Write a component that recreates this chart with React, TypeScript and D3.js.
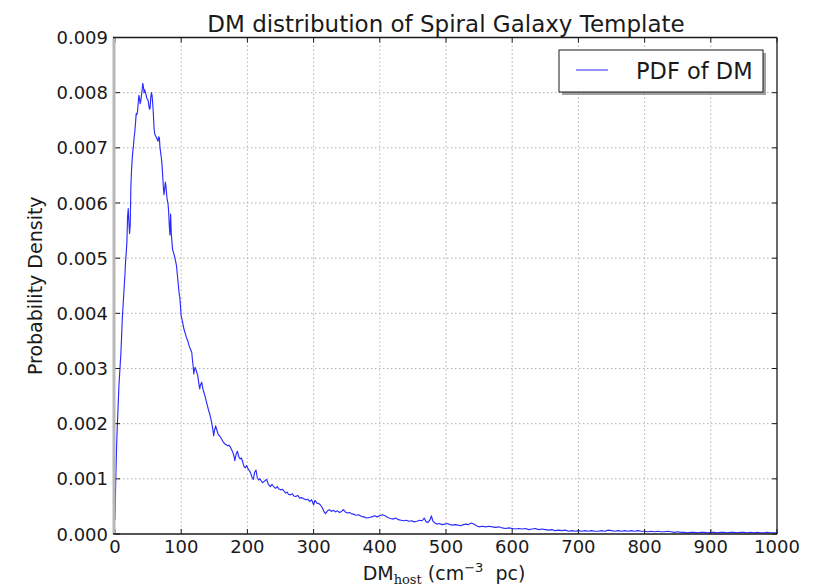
import React from "react";
import * as d3 from "d3";

// Histogram estimate of DM_host for the spiral galaxy template: [DM (cm^-3 pc), density x 1e-3]
const pdfPoints: [number, number][] = [
  [0, 0.25], [1, 0.9], [2, 1.4], [3, 1.8], [4, 2.1], [5, 2.4], [6, 2.7], [7, 2.9], [8, 3.1], [9, 3.3],
  [10, 3.6], [11, 3.9], [12, 4.1], [13, 4.3], [14, 4.5], [15, 4.7], [16, 4.95], [17, 5.1], [18, 5.3], [19, 5.75],
  [20, 5.9], [21, 5.65], [22, 5.45], [23, 5.6], [24, 6.3], [25, 6.6], [26, 6.8], [27, 6.95], [28, 7.05], [29, 7.2],
  [30, 7.3], [31, 7.45], [32, 7.62], [33, 7.6], [34, 7.66], [35, 7.8], [36, 7.95], [37, 7.9], [38, 7.8], [39, 7.85],
  [40, 7.95], [41, 8.05], [42, 8.17], [43, 8.1], [44, 8.0], [45, 8.05], [46, 8.0], [47, 7.96], [48, 7.9], [49, 7.88],
  [50, 7.86], [51, 7.78], [52, 7.7], [53, 7.72], [54, 7.9], [55, 8.0], [56, 7.95], [57, 7.8], [58, 7.6], [59, 7.35],
  [60, 7.25], [62, 7.2], [64, 7.15], [65, 7.12], [66, 7.2], [67, 7.18], [68, 7.0], [70, 6.82], [71, 6.7], [72, 6.5],
  [73, 6.3], [74, 6.15], [75, 6.25], [76, 6.38], [77, 6.3], [78, 6.15], [79, 6.05], [80, 6.0], [81, 5.85], [82, 5.6],
  [83, 5.42], [84, 5.8], [85, 5.45], [86, 5.3], [87, 5.15], [88, 5.12], [90, 5.03], [92, 4.92], [93, 4.85], [95, 4.6],
  [97, 4.35], [98, 4.28], [100, 3.95], [102, 3.85], [104, 3.72], [106, 3.64], [108, 3.56], [110, 3.5], [112, 3.41], [114, 3.35],
  [116, 3.29], [117, 3.15], [118, 3.05], [119, 2.9], [120, 2.98], [121, 3.02], [123, 2.95], [125, 2.87], [127, 2.7], [128, 2.63],
  [129, 2.7], [131, 2.75], [133, 2.62], [136, 2.5], [138, 2.4], [141, 2.26], [143, 2.18], [146, 2.02], [148, 1.88], [149, 1.78],
  [150, 1.86], [152, 1.96], [154, 1.88], [156, 1.8], [158, 1.78], [160, 1.74], [162, 1.7], [164, 1.66], [166, 1.63], [168, 1.62],
  [170, 1.6], [172, 1.61], [174, 1.58], [176, 1.53], [178, 1.48], [180, 1.4], [181, 1.33], [183, 1.45], [185, 1.5], [187, 1.4],
  [189, 1.36], [191, 1.38], [193, 1.3], [195, 1.22], [197, 1.2], [199, 1.24], [201, 1.18], [203, 1.15], [205, 1.1], [207, 1.03],
  [209, 0.99], [211, 1.12], [213, 1.16], [215, 1.02], [217, 0.98], [219, 1.0], [221, 0.96], [223, 0.93], [225, 0.95], [227, 0.97],
  [229, 0.99], [231, 0.92], [233, 0.88], [235, 0.86], [237, 0.9], [239, 0.87], [241, 0.84], [243, 0.83], [245, 0.86], [247, 0.82],
  [250, 0.8], [253, 0.81], [255, 0.78], [258, 0.74], [260, 0.76], [262, 0.72], [265, 0.71], [268, 0.73], [270, 0.69], [273, 0.68],
  [276, 0.7], [279, 0.65], [282, 0.66], [285, 0.64], [288, 0.62], [291, 0.63], [294, 0.59], [297, 0.62], [300, 0.53], [302, 0.61],
  [305, 0.56], [308, 0.55], [310, 0.53], [313, 0.48], [316, 0.4], [318, 0.37], [321, 0.42], [324, 0.44], [327, 0.41], [330, 0.43],
  [333, 0.4], [336, 0.42], [339, 0.39], [342, 0.41], [345, 0.44], [348, 0.4], [351, 0.38], [354, 0.39], [357, 0.37], [360, 0.36],
  [364, 0.34], [368, 0.35], [372, 0.32], [376, 0.31], [380, 0.29], [384, 0.3], [388, 0.31], [392, 0.33], [396, 0.31], [400, 0.33],
  [404, 0.35], [408, 0.33], [412, 0.3], [416, 0.28], [420, 0.27], [424, 0.29], [428, 0.26], [432, 0.25], [436, 0.24], [440, 0.25],
  [444, 0.23], [448, 0.24], [452, 0.22], [456, 0.23], [460, 0.25], [464, 0.24], [467, 0.29], [470, 0.22], [473, 0.21], [476, 0.26],
  [478, 0.33], [480, 0.24], [483, 0.2], [486, 0.18], [490, 0.19], [494, 0.17], [498, 0.18], [502, 0.19], [506, 0.17], [510, 0.16],
  [514, 0.17], [518, 0.16], [522, 0.15], [526, 0.17], [530, 0.18], [534, 0.17], [538, 0.2], [542, 0.18], [546, 0.15], [550, 0.13],
  [555, 0.14], [560, 0.13], [565, 0.14], [570, 0.13], [575, 0.12], [580, 0.13], [585, 0.11], [590, 0.1], [595, 0.11], [600, 0.1],
  [605, 0.09], [610, 0.1], [615, 0.09], [620, 0.1], [625, 0.08], [630, 0.09], [635, 0.1], [640, 0.08], [645, 0.09], [650, 0.08],
  [655, 0.07], [660, 0.08], [665, 0.06], [670, 0.07], [675, 0.06], [680, 0.07], [685, 0.05], [690, 0.06], [695, 0.05], [700, 0.06],
  [705, 0.05], [710, 0.06], [715, 0.05], [720, 0.06], [725, 0.05], [730, 0.05], [735, 0.06], [740, 0.05], [745, 0.07], [750, 0.06],
  [755, 0.05], [760, 0.06], [765, 0.05], [770, 0.06], [775, 0.05], [780, 0.06], [785, 0.05], [790, 0.06], [795, 0.05], [800, 0.05],
  [805, 0.04], [810, 0.05], [815, 0.04], [820, 0.05], [825, 0.04], [830, 0.04], [835, 0.05], [840, 0.04], [845, 0.03], [850, 0.04],
  [855, 0.03], [860, 0.03], [865, 0.02], [870, 0.03], [875, 0.03], [880, 0.02], [885, 0.03], [890, 0.03], [895, 0.02], [900, 0.03],
  [905, 0.03], [910, 0.02], [915, 0.03], [920, 0.03], [925, 0.02], [930, 0.03], [935, 0.03], [940, 0.02], [945, 0.03], [950, 0.03],
  [955, 0.02], [960, 0.03], [965, 0.02], [970, 0.03], [975, 0.02], [980, 0.02], [985, 0.03], [990, 0.02], [995, 0.02], [1000, 0.02],
];

const xTicks = [0, 100, 200, 300, 400, 500, 600, 700, 800, 900, 1000];
const yTicks = [0, 0.001, 0.002, 0.003, 0.004, 0.005, 0.006, 0.007, 0.008, 0.009];

const titleText = "DM distribution of Spiral Galaxy Template";
const yLabelText = "Probability Density";
const legendText = "PDF of DM";

const W = 834;
const H = 588;
const plot = { left: 115, right: 777, top: 37.5, bottom: 534 };
const FONT = "'DejaVu Sans', sans-serif";
const INK = "#1a1a1a";

export default function App() {
  const x = d3.scaleLinear().domain([0, 1000]).range([plot.left, plot.right]);
  const y = d3.scaleLinear().domain([0, 0.009]).range([plot.bottom, plot.top]);

  const line = d3
    .line<[number, number]>()
    .x((d) => x(d[0]))
    .y((d) => y(d[1] * 1e-3));

  const fmtY = d3.format(".3f");
  const tickLen = 5;
  const cx = (plot.left + plot.right) / 2;
  const cy = (plot.top + plot.bottom) / 2;

  return (
    <svg
      width={W}
      height={H}
      style={{ position: "absolute", left: 0, top: 0, background: "#fff" }}
      fontFamily={FONT}
    >
      <rect x={0} y={0} width={W} height={H} fill="#fff" />

      {/* grid */}
      <g stroke="#a8a8a8" strokeWidth={0.9} strokeDasharray="1.5,2.5">
        {xTicks.slice(1, -1).map((t) => (
          <line key={"gx" + t} x1={x(t)} x2={x(t)} y1={plot.top} y2={plot.bottom} />
        ))}
        {yTicks.slice(1, -1).map((t) => (
          <line key={"gy" + t} x1={plot.left} x2={plot.right} y1={y(t)} y2={y(t)} />
        ))}
      </g>

      {/* density curve */}
      <path d={line(pdfPoints) || ""} fill="none" stroke="#2b2bff" strokeWidth={1.15} strokeLinejoin="round" />

      {/* inward ticks on all four sides */}
      <g stroke={INK} strokeWidth={1}>
        {xTicks.map((t) => (
          <g key={"tx" + t}>
            <line x1={x(t)} x2={x(t)} y1={plot.bottom} y2={plot.bottom - tickLen} />
            <line x1={x(t)} x2={x(t)} y1={plot.top} y2={plot.top + tickLen} />
          </g>
        ))}
        {yTicks.map((t) => (
          <g key={"ty" + t}>
            <line x1={plot.left} x2={plot.left + tickLen} y1={y(t)} y2={y(t)} />
            <line x1={plot.right} x2={plot.right - tickLen} y1={y(t)} y2={y(t)} />
          </g>
        ))}
      </g>

      {/* frame */}
      <line x1={plot.left - 1} x2={plot.left - 1} y1={plot.top} y2={plot.bottom} stroke="#b8b8b8" strokeWidth={3} />
      <line x1={plot.left - 2} x2={plot.right} y1={plot.top} y2={plot.top} stroke={INK} strokeWidth={1.3} />
      <line x1={plot.left - 2} x2={plot.right} y1={plot.bottom} y2={plot.bottom} stroke={INK} strokeWidth={1.6} />
      <line x1={plot.right} x2={plot.right} y1={plot.top} y2={plot.bottom} stroke={INK} strokeWidth={1.3} />

      {/* tick labels */}
      <g fontSize={18} fill={INK}>
        {xTicks.map((t) => (
          <text key={"lx" + t} x={x(t)} y={553} textAnchor="middle">
            {String(t)}
          </text>
        ))}
        {yTicks.map((t) => (
          <text key={"ly" + t} x={108} y={y(t) + 6.5} textAnchor="end">
            {fmtY(t)}
          </text>
        ))}
      </g>

      {/* title */}
      <text x={cx} y={31.5} textAnchor="middle" fontSize={23} fill={INK}>
        {titleText}
      </text>

      {/* y label */}
      <text
        transform={`translate(42,${cy}) rotate(-90)`}
        textAnchor="middle"
        fontSize={19}
        fill={INK}
      >
        {yLabelText}
      </text>

      {/* x label: DM_host (cm^-3 pc) */}
      <text x={cx - 2} y={580} textAnchor="middle" fontSize={19} fill={INK}>
        <tspan>DM</tspan>
        <tspan fontFamily="'DejaVu Serif', 'Liberation Serif', serif" fontSize={13} dy={3.5}>
          host
        </tspan>
        <tspan dy={-3.5}>{"\u00a0(cm"}</tspan>
        <tspan fontSize={13} dy={-8}>
          {"\u22123"}
        </tspan>
        <tspan dy={8}>{"\u00a0\u00a0pc)"}</tspan>
      </text>

      {/* legend */}
      <g>
        <rect x={562} y={53} width={204} height={42} fill="#7a7a7a" opacity={0.7} />
        <rect x={559} y={50} width={204} height={42} fill="#fff" stroke={INK} strokeWidth={1} />
        <line x1={576} x2={608} y1={70} y2={70} stroke="#4a4aff" strokeWidth={1.2} />
        <text x={636} y={79} fontSize={22.5} fill={INK}>
          {legendText}
        </text>
      </g>
    </svg>
  );
}
